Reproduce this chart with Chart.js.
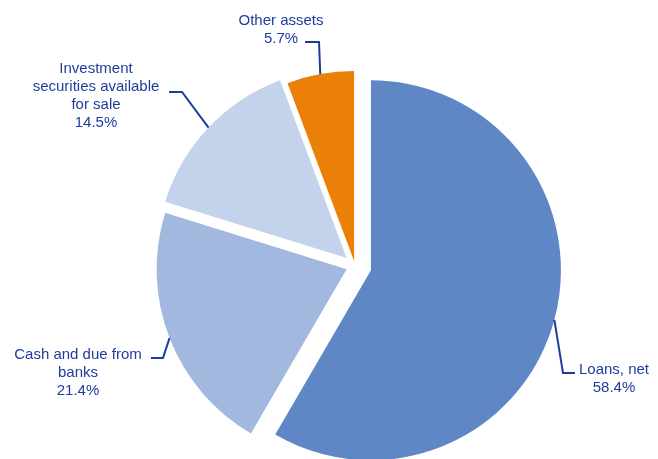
<!DOCTYPE html>
<html>
<head>
<meta charset="utf-8">
<script src="https://cdn.jsdelivr.net/npm/chart.js@4"></script>
<style>
    html, body { margin: 0; padding: 0; background: #fff; }
    #box { width: 658px; height: 459px; position: relative; }
</style>
</head>
<body>
<div id="box"><canvas id="canvas-pie"></canvas></div>
<script>

// data
var categories = [
    ['Loans, net'],
    ['Cash and due from', 'banks'],
    ['Investment', 'securities available', 'for sale'],
    ['Other assets']
];
var shares = [58.4, 21.4, 14.5, 5.7];
var shareLabels = ['58.4%', '21.4%', '14.5%', '5.7%'];

// styles
var colors = ['#5F87C6', '#A2B8DE', '#C4D3EC', '#EA8008'];
var textColor = '#1D3C9C';
var explode = [16.5, 9, 11.5, 5];   //每块扇形向外移出的像素

// label placement: centre x / first baseline, elbow and end of the leader line
var labelLayout = [
    { x: 614, y: 374, elbow: [563, 373], end: [575, 373] },
    { x: 78,  y: 359, elbow: [163, 358], end: [151, 358] },
    { x: 96,  y: 73,  elbow: [182, 92],  end: [169, 92] },
    { x: 281, y: 25,  elbow: [319, 42],  end: [305, 42] }
];


var explodePlugin = {
    id: 'explode',
    beforeDatasetDraw: function (chart, args) {
        var ctx = chart.ctx;
        args.meta.data.forEach(function (arc, i) {
            var mid = (arc.startAngle + arc.endAngle) / 2;
            ctx.save();
            ctx.translate(Math.cos(mid) * explode[i], Math.sin(mid) * explode[i]);
            arc.draw(ctx);
            ctx.restore();
        });
        return false;
    }
};

var labelPlugin = {
    id: 'pieLabels',
    afterDraw: function (chart) {
        var ctx = chart.ctx;
        var arcs = chart.getDatasetMeta(0).data;

        ctx.save();
        ctx.strokeStyle = textColor;
        ctx.fillStyle = textColor;
        ctx.lineWidth = 2;
        ctx.font = '15px "Liberation Sans", Arial, sans-serif';
        ctx.textAlign = 'center';
        ctx.textBaseline = 'alphabetic';

        arcs.forEach(function (arc, i) {
            var mid = (arc.startAngle + arc.endAngle) / 2;
            var r = arc.outerRadius + explode[i];
            var px = arc.x + Math.cos(mid) * r;
            var py = arc.y + Math.sin(mid) * r;
            var lay = labelLayout[i];

            ctx.beginPath();
            ctx.moveTo(px, py);
            ctx.lineTo(lay.elbow[0], lay.elbow[1]);
            ctx.lineTo(lay.end[0], lay.end[1]);
            ctx.stroke();

            var lines = chart.data.labels[i].concat([shareLabels[i]]);
            lines.forEach(function (t, k) {
                ctx.fillText(t, lay.x, lay.y + k * 18);
            });
        });
        ctx.restore();
    }
};


var chart = new Chart(document.getElementById('canvas-pie').getContext('2d'), {
    type: 'pie',
    data: {
        labels: categories,
        datasets: [{
            data: shares,
            backgroundColor: colors,
            borderWidth: 0,
            clip: false
        }]
    },
    options: {
        responsive: true,
        maintainAspectRatio: false,
        animation: false,
        radius: 190,
        layout: { padding: { left: 52, right: 0, top: 73, bottom: 0 } },
        plugins: {
            legend: { display: false },
            tooltip: { enabled: false }
        }
    },
    plugins: [explodePlugin, labelPlugin]
});

</script>
</body>
</html>
